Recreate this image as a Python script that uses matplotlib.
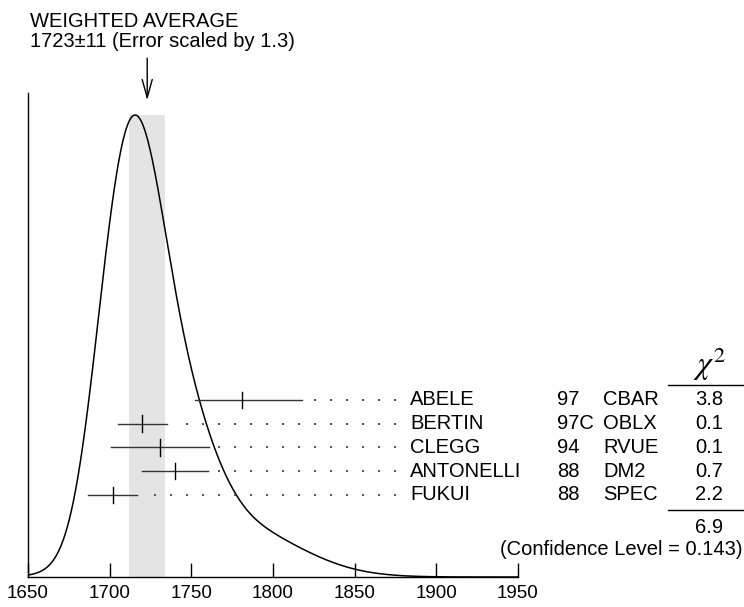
import numpy as np
import matplotlib.pyplot as plt

plt.rcParams.update({
    'font.family': 'Liberation Sans',
    'font.size': 14.5,
    'mathtext.fontset': 'stix',
})

# measurements (top to bottom)
names = ['ABELE', 'BERTIN', 'CLEGG', 'ANTONELLI', 'FUKUI']
years = ['97', '97C', '94', '88', '88']
techs = ['CBAR', 'OBLX', 'RVUE', 'DM2', 'SPEC']
values = [1781, 1720, 1731, 1740, 1702]
err_lo = [29, 15, 30, 20, 15]
err_hi = [37, 15, 30, 20, 15]
chi2 = ['3.8', '0.1', '0.1', '0.7', '2.2']
chi2_total = '6.9'
conf_level = '0.143'

avg, avg_err, scale = 1723, 11, 1.3

x_ticks = [1650, 1700, 1750, 1800, 1850, 1900, 1950]

# ideogram: each measurement a gaussian of area ~ 1/sigma
xs = np.linspace(1650, 1950, 1200)
ideo = np.zeros_like(xs)
for v, lo, hi in zip(values, err_lo, err_hi):
    s = np.where(xs < v, lo, hi)
    ideo += np.exp(-0.5 * ((xs - v) / s) ** 2) / ((lo + hi) / 2) ** 2

fig = plt.figure(figsize=(7.44, 6.07), dpi=100)
ax = fig.add_axes([0.0376, 0.0494, 0.6586, 0.7974])

peak = ideo.max()
ax.set_ylim(0, peak / 0.9545)
ax.set_xlim(1650, 1950)

ax.axvspan(avg - avg_err, avg + avg_err, ymin=0, ymax=0.9545,
           color='#e4e4e4', lw=0, zorder=0)
ax.plot(xs, ideo, color='black', lw=1.1, zorder=2)

trans = ax.get_xaxis_transform()
row_y = 0.366 - 0.049 * np.arange(len(names))
dot_grid = np.arange(1727.8, 1880, 9.8)
for i, y in enumerate(row_y):
    v = values[i]
    ax.plot([v - err_lo[i], v + err_hi[i]], [y, y], color='#333333', lw=1.0,
            transform=trans, zorder=3)
    ax.plot([v, v], [y - 0.017, y + 0.017], color='black', lw=1.0,
            transform=trans, zorder=3)
    d = dot_grid[dot_grid > v + err_hi[i] + 4]
    ax.scatter(d, np.full(len(d), y), s=0.6, color='#555555', marker='s',
               lw=0, transform=trans, zorder=3)
    ax.text(1884, y, names[i], transform=trans, va='center', ha='left')
    ax.text(1974, y, years[i], transform=trans, va='center', ha='left')
    ax.text(2002, y, techs[i], transform=trans, va='center', ha='left')
    ax.text(2067, y, chi2[i], transform=trans, va='center', ha='center')

# chi2 column decorations
ax.plot([2042, 2089], [0.396, 0.396], color='black', lw=1.0,
        transform=trans, clip_on=False)
ax.plot([2042, 2089], [0.139, 0.139], color='black', lw=1.0,
        transform=trans, clip_on=False)
ax.text(2067, 0.40, r'$\chi^2$', transform=trans, ha='center', va='bottom',
        fontsize=23)
ax.text(2067, 0.102, chi2_total, transform=trans, va='center', ha='center')
ax.text(2087.5, 0.056, f'(Confidence Level = {conf_level})', transform=trans,
        va='center', ha='right')

# arrow to weighted average
ax.annotate('', xy=(avg, 0.985), xytext=(avg, 1.072), xycoords=trans,
            textcoords=trans,
            arrowprops=dict(arrowstyle='->,head_length=0.9,head_width=0.25',
                            lw=1.0, color='black', shrinkA=0, shrinkB=0))
fig.text(30.5 / 744, 1 - 27 / 607, 'WEIGHTED AVERAGE', va='baseline', ha='left')
fig.text(30.5 / 744, 1 - 47 / 607,
         f'{avg}\u00b1{avg_err} (Error scaled by {scale})',
         va='baseline', ha='left')

for s in ['top', 'right']:
    ax.spines[s].set_visible(False)
ax.spines['left'].set_linewidth(1.0)
ax.spines['bottom'].set_linewidth(1.0)
ax.set_yticks([])
ax.set_xticks(x_ticks)
ax.tick_params(axis='x', direction='in', length=10, width=1.0, pad=6,
               labelsize=13.5)

fig.savefig('out.png', dpi=100)
